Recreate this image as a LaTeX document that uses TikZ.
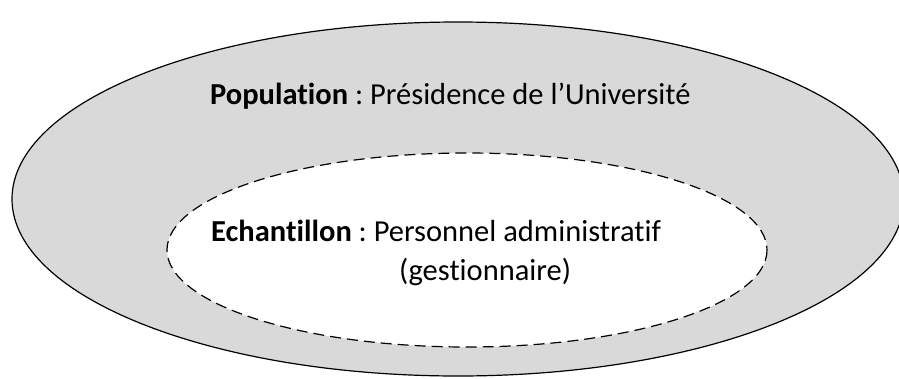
\documentclass[tikz,border=0pt]{standalone}
\usepackage{fontspec}
\setmainfont[Ligatures=NoCommon]{Carlito}
\frenchspacing
\begin{document}
\begin{tikzpicture}[x=1pt,y=-1pt,
  outerell/.style={draw=black,line width=1.2pt},
  innerell/.style={draw=black,line width=1.2pt,fill=white,dash pattern=on 11pt off 6pt},
  lbl/.style={font=\fontsize{30.5}{36}\selectfont,inner sep=0pt,anchor=base west}]
\useasboundingbox (0,0) rectangle (899,378);
\definecolor{ringgray}{HTML}{D9D9D9}
\draw[outerell,fill=ringgray] (458,199) ellipse [x radius=446, y radius=177];
\draw[innerell] (467,250) ellipse [x radius=300, y radius=97];
\node[lbl] (pop) at (210,104.5) {\textbf{Population} : Présidence de l’Université};
\node[lbl] (ech) at (211,241.5) {\textbf{Echantillon} : Personnel administratif};
\node[lbl] (gest) at (399,280) {(gestionnaire)};
\end{tikzpicture}
\end{document}
